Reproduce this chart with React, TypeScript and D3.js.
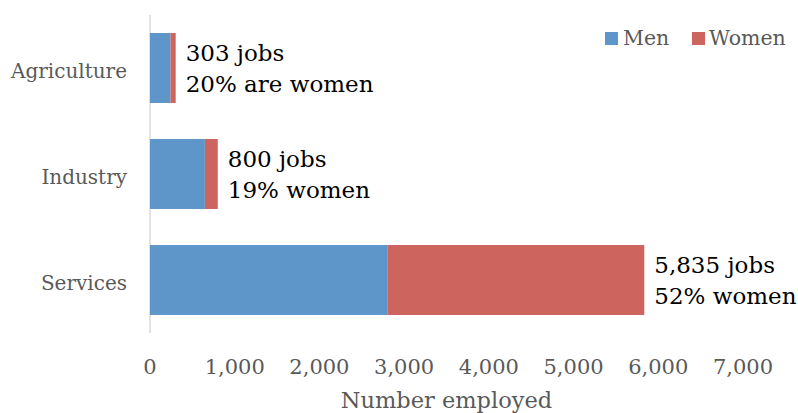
import React from 'react';
import * as d3 from 'd3';

const sectors = ['Agriculture', 'Industry', 'Services'];
const men = [242, 648, 2801];
const women = [61, 152, 3034];
const totals = [303, 800, 5835];
const notes = ['20% are women', '19% women', '52% women'];
const xTicks = [0, 1000, 2000, 3000, 4000, 5000, 6000, 7000];

const W = 798;
const H = 413;
const margin = { top: 15, right: 55, bottom: 80, left: 150 };
const FONT = "'DejaVu Serif', serif";
const MEN_COL = '#5F96C9';
const WOMEN_COL = '#CD645E';

const App: React.FC = () => {
  const x = d3.scaleLinear().domain([0, 7000]).range([margin.left, W - margin.right]);
  const y = d3.scaleBand<string>().domain(sectors).range([margin.top, H - margin.bottom]).paddingInner(0.34).paddingOuter(0.17);
  const fmt = d3.format(',');
  const bh = y.bandwidth();

  return (
    <svg width={W} height={H} style={{ display: 'block', position: 'absolute', left: 0, top: 0, background: '#fff' }}>
      <line x1={x(0)} x2={x(0)} y1={margin.top} y2={H - margin.bottom} stroke="#D9D9D9" strokeWidth={1.5} />
      {sectors.map((s, i) => {
        const y0 = y(s)!;
        const end = x(men[i] + women[i]);
        return (
          <g key={s}>
            <rect x={x(0)} y={y0} width={x(men[i]) - x(0)} height={bh} fill={MEN_COL} />
            <rect x={x(men[i])} y={y0} width={end - x(men[i])} height={bh} fill={WOMEN_COL} />
            <text x={127} y={y0 + bh / 2 + 3} textAnchor="end" dominantBaseline="central" fontFamily={FONT} fontSize={20} fill="#595959">{s}</text>
            <text x={end + 10} y={y0 + bh / 2 - 7} fontFamily={FONT} fontSize={23} fill="#000">{fmt(totals[i])} jobs</text>
            <text x={end + 10} y={y0 + bh / 2 + 24} fontFamily={FONT} fontSize={23} fill="#000">{notes[i]}</text>
          </g>
        );
      })}
      {xTicks.map(t => (
        <text key={t} x={x(t)} y={374} textAnchor="middle" fontFamily={FONT} fontSize={21} fill="#595959">{fmt(t)}</text>
      ))}
      <text x={(x(0) + x(7000)) / 2} y={408} textAnchor="middle" fontFamily={FONT} fontSize={22.5} fill="#595959">Number employed</text>
      <rect x={605} y={32} width={13} height={13} fill={MEN_COL} />
      <text x={623} y={45} fontFamily={FONT} fontSize={20.5} fill="#595959">Men</text>
      <rect x={692} y={32} width={13} height={13} fill={WOMEN_COL} />
      <text x={709} y={45} fontFamily={FONT} fontSize={20.5} fill="#595959">Women</text>
    </svg>
  );
};

export default App;
